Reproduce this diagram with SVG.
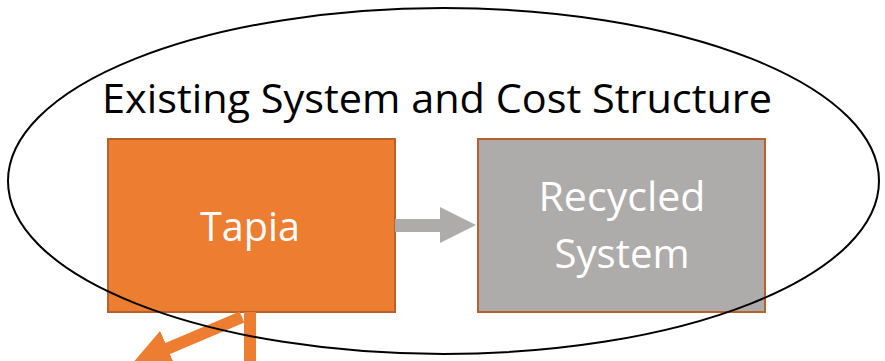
<svg xmlns="http://www.w3.org/2000/svg" width="885" height="361" viewBox="0 0 885 361">
<style>
.t{font-family:"Open Sans","Noto Sans",sans-serif;font-size:40px;}
.w{fill:#ffffff;}
.k{fill:#000000;}
</style>
<defs>
<marker id="oh" viewBox="0 0 10 10" refX="5" refY="5" markerWidth="3.2" markerHeight="3.2" orient="auto" markerUnits="strokeWidth">
<path d="M0,0 L10,5 L0,10 z" fill="#ED7D31"/>
</marker>
</defs>
<rect width="885" height="361" fill="#ffffff"/>
<g id="tapia">
<rect x="108" y="139" width="287" height="173" fill="#ED7D31" stroke="#B8612A" stroke-width="2"/>
<text class="t w" x="250" y="241" text-anchor="middle" textLength="100" lengthAdjust="spacingAndGlyphs">Tapia</text>
</g>
<g id="recycled">
<rect x="478" y="139" width="287" height="173" fill="#AEABAB" stroke="#B8612A" stroke-width="2"/>
<text class="t w" x="622" y="211" text-anchor="middle" textLength="167" lengthAdjust="spacingAndGlyphs">Recycled</text>
<text class="t w" x="622" y="268" text-anchor="middle" textLength="135" lengthAdjust="spacingAndGlyphs">System</text>
</g>
<g id="connectors">
<path d="M395,219 L440,219 L440,207 L476,225 L440,243 L440,232 L395,232 z" fill="#AEABAB"/>
<line x1="250" y1="312" x2="250" y2="361" stroke="#ED7D31" stroke-width="12"/>
<line x1="242" y1="317" x2="150" y2="356" stroke="#ED7D31" stroke-width="12" marker-end="url(#oh)"/>
</g>
<g id="boundary">
<ellipse cx="443.5" cy="181" rx="435.5" ry="173" fill="none" stroke="#000000" stroke-width="2"/>
<text class="t k" x="102" y="113" textLength="670" lengthAdjust="spacingAndGlyphs">Existing System and Cost Structure</text>
</g>
</svg>
